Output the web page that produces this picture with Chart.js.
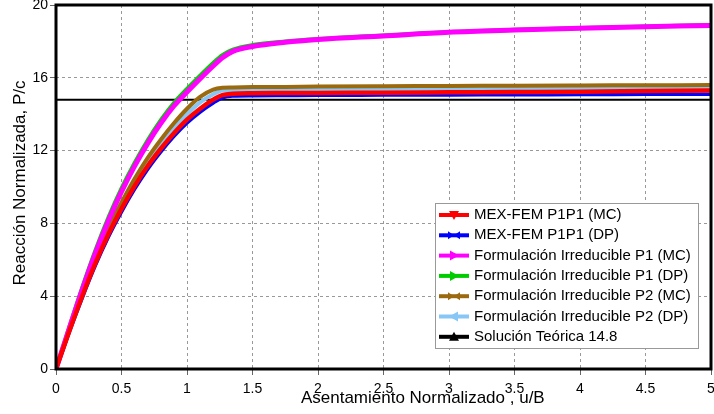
<!DOCTYPE html>
<html><head><meta charset="utf-8">
<script src="https://cdn.jsdelivr.net/npm/chart.js@4/dist/chart.umd.min.js"></script>
<style>html,body{margin:0;padding:0;background:#fff}#wrap{width:714px;height:414px}</style>
</head><body><div id="wrap"><canvas id="c" width="714" height="414"></canvas></div>
<script>
// ---- data ----
const X = [0,0.1,0.2,0.3,0.4,0.5,0.6,0.7,0.8,0.9,1.0,1.1,1.2,1.27,1.35,1.5,1.75,2,2.5,3,3.5,4,4.5,5];
const mexMC   = [0,2.05,4.0,5.8,7.4,8.8,10.05,11.15,12.1,12.95,13.7,14.3,14.8,15.05,15.12,15.15,15.16,15.17,15.18,15.2,15.22,15.24,15.27,15.3];
const mexDP   = [0,2.0,3.9,5.68,7.25,8.63,9.88,10.98,11.93,12.78,13.52,14.12,14.62,14.9,15.0,15.02,15.03,15.04,15.05,15.06,15.07,15.08,15.09,15.1];
const irrP1MC = [0,2.2,4.35,6.35,8.15,9.75,11.15,12.4,13.5,14.45,15.22,15.95,16.65,17.1,17.45,17.72,17.95,18.1,18.3,18.5,18.62,18.72,18.8,18.88];
const irrP1DP = [0,2.27,4.47,6.5,8.32,9.92,11.32,12.57,13.67,14.62,15.39,16.12,16.82,17.25,17.55,17.8,18.0,18.13,18.33,18.52,18.64,18.74,18.82,18.9];
const irrP2MC = [0,2.15,4.2,6.1,7.75,9.15,10.45,11.6,12.6,13.5,14.3,14.95,15.35,15.45,15.47,15.49,15.5,15.52,15.54,15.55,15.57,15.58,15.59,15.6];
const irrP2DP = [0,2.1,4.12,5.98,7.65,9.0,10.28,11.4,12.38,13.25,14.0,14.65,15.1,15.3,15.33,15.34,15.35,15.36,15.37,15.38,15.39,15.4,15.41,15.42];
const theoryX = [0,5];
const theoryY = [14.8,14.8];
const seriesLabels = ['MEX-FEM P1P1 (MC)','MEX-FEM P1P1 (DP)','Formulación Irreducible P1 (MC)','Formulación Irreducible P1 (DP)','Formulación Irreducible P2 (MC)','Formulación Irreducible P2 (DP)','Solución Teórica 14.8'];
const xTickValues = [0,0.5,1,1.5,2,2.5,3,3.5,4,4.5,5];
const yTickValues = [0,4,8,12,16,20];
const xTitle = 'Asentamiento Normalizado , u/B';
const yTitle = 'Reacción Normalizada, P/c';

// ---- styles ----
const colors = ['#ff0000','#0000ff','#ff00ff','#00cc00','#9c6a0e','#87c6f5','#000000'];
const markers = ['down','bowtie','right','right','bowtie','left','up'];
const drawOrder = [1,2,3,4,5,6,7];
const widths = [4.5,3.5,5,4,4,4,2];
const FONT = '"Liberation Sans", Arial, sans-serif';

function pts(xs, ys){ return xs.map((x,i)=>({x:x, y:ys[i]})); }
const allY = [mexMC, mexDP, irrP1MC, irrP1DP, irrP2MC, irrP2DP];
const datasets = allY.map((ys,i)=>({
  label: seriesLabels[i], data: pts(X, ys), borderColor: colors[i], backgroundColor: colors[i],
  borderWidth: widths[i], pointRadius: 0, cubicInterpolationMode: 'monotone', fill: false, order: drawOrder[i]
}));
datasets.push({label: seriesLabels[6], data: pts(theoryX, theoryY), borderColor: colors[6], backgroundColor: colors[6],
  borderWidth: widths[6], pointRadius: 0, fill: false, order: drawOrder[6]});

function marker(ctx, type, cx, cy, color){
  ctx.save(); ctx.fillStyle = color; ctx.beginPath();
  if (type==='down'){ ctx.moveTo(cx-5,cy-4); ctx.lineTo(cx+5,cy-4); ctx.lineTo(cx,cy+5); ctx.closePath(); }
  else if (type==='up'){ ctx.moveTo(cx-5,cy+4); ctx.lineTo(cx+5,cy+4); ctx.lineTo(cx,cy-5); ctx.closePath(); }
  else if (type==='right'){ ctx.moveTo(cx-4,cy-5); ctx.lineTo(cx-4,cy+5); ctx.lineTo(cx+5,cy); ctx.closePath(); }
  else if (type==='left'){ ctx.moveTo(cx+4,cy-5); ctx.lineTo(cx+4,cy+5); ctx.lineTo(cx-5,cy); ctx.closePath(); }
  else if (type==='bowtie'){
    ctx.moveTo(cx-6,cy-4); ctx.lineTo(cx-6,cy+4); ctx.lineTo(cx,cy); ctx.closePath();
    ctx.moveTo(cx+6,cy-4); ctx.lineTo(cx+6,cy+4); ctx.lineTo(cx,cy); ctx.closePath();
  }
  ctx.fill(); ctx.restore();
}

const framePlugin = {
  id: 'frame',
  afterDatasetsDraw(chart){
    const {ctx, chartArea:a} = chart;
    ctx.save(); ctx.strokeStyle = '#000'; ctx.lineWidth = 3;
    ctx.strokeRect(a.left, a.top, a.right-a.left, a.bottom-a.top);
    ctx.restore();
  },
  afterDraw(chart){
    const {ctx, chartArea:a} = chart;
    // axis titles
    ctx.save(); ctx.fillStyle = '#000'; ctx.font = '17px ' + FONT;
    ctx.textAlign = 'center'; ctx.textBaseline = 'middle';
    ctx.fillText(xTitle, a.left + (a.right-a.left)*0.56, 398);
    ctx.translate(20, (a.top+a.bottom)/2 - 4); ctx.rotate(-Math.PI/2);
    ctx.fillText(yTitle, 0, 0);
    ctx.restore();
    // legend
    const bx = a.right - 276, by = a.bottom - 166, bw = 263, bh = 145;
    ctx.save();
    ctx.fillStyle = '#fff'; ctx.fillRect(bx, by, bw, bh);
    ctx.strokeStyle = '#999'; ctx.lineWidth = 1; ctx.strokeRect(bx+0.5, by+0.5, bw, bh);
    ctx.font = '15px ' + FONT; ctx.textBaseline = 'middle'; ctx.textAlign = 'left';
    chart.data.datasets.forEach((ds,i)=>{
      const cy = by + 12 + i*20.3;
      ctx.strokeStyle = ds.borderColor; ctx.lineWidth = 4;
      ctx.beginPath(); ctx.moveTo(bx+4, cy); ctx.lineTo(bx+34, cy); ctx.stroke();
      marker(ctx, markers[i], bx+19, cy, ds.borderColor);
      ctx.fillStyle = '#000'; ctx.fillText(ds.label, bx+39, cy);
    });
    ctx.restore();
  }
};

new Chart(document.getElementById('c'), {
  type: 'line',
  data: { datasets },
  options: {
    responsive: false, animation: false, devicePixelRatio: 1,
    layout: { padding: { top: 5, right: 3, left: 0, bottom: 0 } },
    plugins: { legend: { display: false }, tooltip: { enabled: false } },
    scales: {
      x: {
        type: 'linear', min: 0, max: 5,
        afterFit(s){ s.height = 45; s.paddingLeft = 0; s.paddingRight = 0; },
        afterBuildTicks(s){ s.ticks = xTickValues.map(v=>({value:v})); },
        ticks: { color: '#000', font: { size: 14, family: FONT }, padding: 6, maxRotation: 0,
                 callback: v => String(v) },
        grid: { color: '#999', lineWidth: 1, tickLength: 6, tickColor: '#666', tickBorderDash: [] },
        border: { display: false, dash: [3,3] }
      },
      y: {
        type: 'linear', min: 0, max: 20,
        afterFit(s){ s.width = 56; s.paddingTop = 0; s.paddingBottom = 0; },
        afterBuildTicks(s){ s.ticks = yTickValues.map(v=>({value:v})); },
        ticks: { color: '#000', font: { size: 14, family: FONT }, padding: 2, callback: v => String(v) },
        grid: { color: '#999', lineWidth: 1, tickLength: 6, tickColor: '#666', tickBorderDash: [] },
        border: { display: false, dash: [3,3] }
      }
    }
  },
  plugins: [framePlugin]
});
</script>
</body></html>
